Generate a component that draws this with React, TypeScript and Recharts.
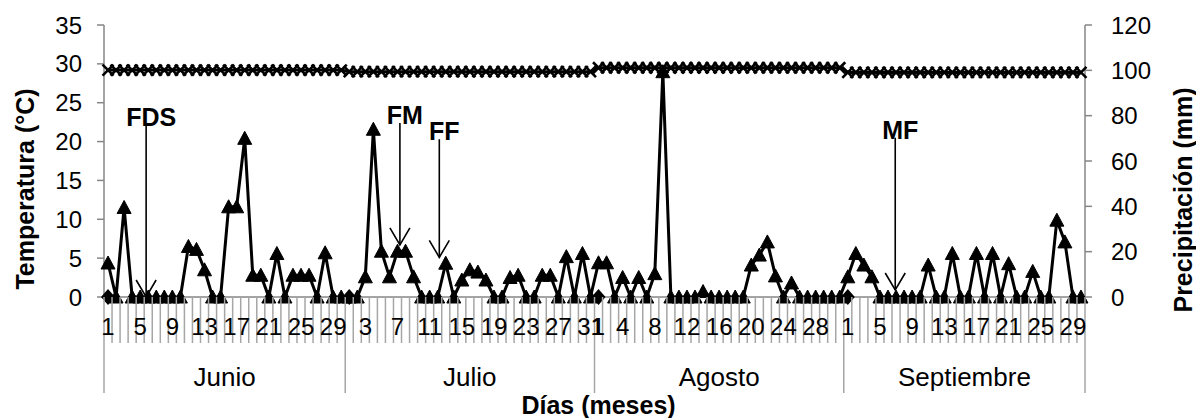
import React from 'react';
import { ComposedChart, Line, XAxis, YAxis, ReferenceLine } from 'recharts';

// ---------- data ----------
const MONTHS = ['Junio', 'Julio', 'Agosto', 'Septiembre'];

const LABELED_DAYS = [
  [1, 5, 9, 13, 17, 21, 25, 29],
  [3, 7, 11, 15, 19, 23, 27, 31],
  [1, 4, 8, 12, 16, 20, 24, 28],
  [1, 5, 9, 13, 17, 21, 25, 29],
];

// Precipitación (mm) diaria
const PRECIP_JUNIO = [15, 0, 39.5, 0, 0, 0, 0, 0, 0, 0, 22.3, 21, 12, 0, 0, 39.8, 39.8, 70, 9.6, 9.6, 0, 19.2, 0, 9.6, 9.6, 9.6, 0, 19.5, 0, 0];
const PRECIP_JULIO = [0, 0, 8.9, 74, 20.2, 8.9, 20.2, 20.2, 8.9, 0, 0, 0, 14.9, 0, 7.5, 12, 11, 7.5, 0, 0, 8.6, 9.6, 0, 0, 9.6, 9.6, 0, 17.8, 0, 19.2, 0];
const PRECIP_AGOSTO = [15.1, 15.1, 0, 8.6, 0, 8.6, 0, 10.3, 99.4, 0, 0, 0, 0, 2.4, 0, 0, 0, 0, 0, 14.1, 18.5, 24.3, 9.3, 0, 6.2, 0, 0, 0, 0, 0, 0];
const PRECIP_SEPTIEMBRE = [8.9, 19.2, 14.1, 8.9, 0, 0, 0, 0, 0, 0, 14.1, 0, 0, 19.2, 0, 0, 19.2, 0, 19.2, 0, 14.7, 0, 0, 11.3, 0, 0, 33.9, 24.3, 0, 0];

// Temperatura (°C) diaria
const TEMP_JUNIO = [29.2, 29.2, 29.2, 29.2, 29.2, 29.2, 29.2, 29.2, 29.2, 29.2, 29.2, 29.2, 29.2, 29.2, 29.2, 29.2, 29.2, 29.2, 29.2, 29.2, 29.2, 29.2, 29.2, 29.2, 29.2, 29.2, 29.2, 29.2, 29.2, 29.2];
const TEMP_JULIO = [29.0, 29.0, 29.0, 29.0, 29.0, 29.0, 29.0, 29.0, 29.0, 29.0, 29.0, 29.0, 29.0, 29.0, 29.0, 29.0, 29.0, 29.0, 29.0, 29.0, 29.0, 29.0, 29.0, 29.0, 29.0, 29.0, 29.0, 29.0, 29.0, 29.0, 29.0];
const TEMP_AGOSTO = [29.5, 29.5, 29.5, 29.5, 29.5, 29.5, 29.5, 29.5, 29.5, 29.5, 29.5, 29.5, 29.5, 29.5, 29.5, 29.5, 29.5, 29.5, 29.5, 29.5, 29.5, 29.5, 29.5, 29.5, 29.5, 29.5, 29.5, 29.5, 29.5, 29.5, 29.5];
const TEMP_SEPTIEMBRE = [28.9, 28.9, 28.9, 28.9, 28.9, 28.9, 28.9, 28.9, 28.9, 28.9, 28.9, 28.9, 28.9, 28.9, 28.9, 28.9, 28.9, 28.9, 28.9, 28.9, 28.9, 28.9, 28.9, 28.9, 28.9, 28.9, 28.9, 28.9, 28.9, 28.9];

// marca (rombo) del primer día de cada mes
const MONTH_START_MARK = [0, 0, 0, 0];

const LEFT_TICKS = [0, 5, 10, 15, 20, 25, 30, 35];
const RIGHT_TICKS = [0, 20, 40, 60, 80, 100, 120];

// anotaciones: posición en días (índice), extremo superior y punta (°C)
const ANNOTATIONS = [
  { label: 'FDS', pos: 4.74, top: 22.1, tip: 0 },
  { label: 'FM', pos: 36.3, top: 22.4, tip: 6.7 },
  { label: 'FF', pos: 41.2, top: 20.3, tip: 5.1 },
  { label: 'MF', pos: 97.9, top: 20.5, tip: 0.9 },
];

const PRECIP = [PRECIP_JUNIO, PRECIP_JULIO, PRECIP_AGOSTO, PRECIP_SEPTIEMBRE];
const TEMP = [TEMP_JUNIO, TEMP_JULIO, TEMP_AGOSTO, TEMP_SEPTIEMBRE];

type Row = { i: number; month: number; day: number; ndays: number; precip: number; temp: number; mark: number | null };
const DATA: Row[] = [];
PRECIP.forEach((arr, mi) => {
  arr.forEach((v, di) => {
    DATA.push({
      i: DATA.length,
      month: mi,
      day: di + 1,
      ndays: arr.length,
      precip: v,
      temp: TEMP[mi][di],
      mark: di === 0 ? MONTH_START_MARK[mi] : null,
    });
  });
});
const N = DATA.length;
const ALL_TICKS = DATA.map((r) => r.i);

// ---------- layout / style ----------
const W = 1196;
const H = 418;
const LEFT_W = 104;
const RIGHT_W = 111;
const TOP = 25;
const XAXIS_H = 121;
const STEP = (W - LEFT_W - RIGHT_W) / N;
const FONT = '"Liberation Sans", Arial, Helvetica, sans-serif';
const AXIS = '#868686';
const DAYLINE = '#a6a6a6';

const DayLineTick = (props: any) => {
  const { x, y, payload } = props;
  const row = DATA[payload.value];
  if (!row) return <g />;
  const left = x - STEP / 2;
  const isStart = row.day === 1;
  const isEnd = payload.value === N - 1;
  return (
    <g>
      <line x1={left} x2={left} y1={y} y2={y + (isStart ? 96 : 46)} stroke={DAYLINE} strokeWidth={1.5} />
      {isEnd && <line x1={x + STEP / 2} x2={x + STEP / 2} y1={y} y2={y + 96} stroke={DAYLINE} strokeWidth={1.5} />}
    </g>
  );
};

const DayLabelTick = (props: any) => {
  const { x, y, payload } = props;
  const row = DATA[payload.value];
  if (!row) return <g />;
  const showDay = LABELED_DAYS[row.month].includes(row.day);
  const monthCenter = x - STEP / 2 + (row.ndays * STEP) / 2;
  return (
    <g>
      {showDay && (
        <text x={x} y={y + 37} textAnchor="middle" fontSize={24} fontFamily={FONT} fill="#000">
          {row.day}
        </text>
      )}
      {row.day === 1 && (
        <text x={monthCenter} y={y + 88} textAnchor="middle" fontSize={26} fontFamily={FONT} fill="#000">
          {MONTHS[row.month]}
        </text>
      )}
    </g>
  );
};

const VTitle = (props: any) => {
  const { viewBox, text, dx, dy } = props;
  const cx = viewBox.x + dx;
  const cy = viewBox.y + viewBox.height / 2 + dy;
  return (
    <text
      x={cx}
      y={cy}
      transform={`rotate(-90 ${cx} ${cy})`}
      textAnchor="middle"
      dominantBaseline="central"
      fontSize={25}
      fontWeight="bold"
      fontFamily={FONT}
      fill="#000"
    >
      {text}
    </text>
  );
};

const XTitle = (props: any) => {
  const { viewBox } = props;
  return (
    <text
      x={viewBox.x + viewBox.width / 2 + 4}
      y={viewBox.y + 116}
      textAnchor="middle"
      fontSize={25}
      fontWeight="bold"
      fontFamily={FONT}
      fill="#000"
    >
      Días (meses)
    </text>
  );
};

const TriangleDot = (p: any) => {
  const { cx, cy } = p;
  if (cx == null || cy == null || isNaN(cy)) return <g key={p.index} />;
  return <path key={p.index} d={`M${cx},${cy - 7} L${cx + 7},${cy + 6} L${cx - 7},${cy + 6} Z`} fill="#000" stroke="#000" strokeWidth={1} />;
};

const CrossDot = (p: any) => {
  const { cx, cy } = p;
  if (cx == null || cy == null || isNaN(cy)) return <g key={p.index} />;
  const s = 5.5;
  return (
    <g key={p.index}>
      <line x1={cx - s} y1={cy - s} x2={cx + s} y2={cy + s} stroke="#000" strokeWidth={2.6} />
      <line x1={cx - s} y1={cy + s} x2={cx + s} y2={cy - s} stroke="#000" strokeWidth={2.6} />
    </g>
  );
};

const DiamondDot = (p: any) => {
  const { cx, cy } = p;
  if (cx == null || cy == null || isNaN(cy) || p.value == null) return <g key={p.index} />;
  return <path key={p.index} d={`M${cx},${cy - 8} L${cx + 7},${cy} L${cx},${cy + 8} L${cx - 7},${cy} Z`} fill="#000" />;
};

const ArrowShape = (props: any) => {
  const { x1, y1, x2, y2, text } = props;
  const x = x1;
  const topY = Math.min(y1, y2);
  const tipY = Math.max(y1, y2);
  return (
    <g>
      <text x={x + 5} y={topY + 1} textAnchor="middle" fontSize={25} fontWeight="bold" fontFamily={FONT} fill="#000">
        {text}
      </text>
      <line x1={x} y1={topY} x2={x2} y2={tipY} stroke="#000" strokeWidth={1.6} />
      <polyline points={`${x - 10},${tipY - 17} ${x},${tipY} ${x + 10},${tipY - 17}`} fill="none" stroke="#000" strokeWidth={1.6} />
    </g>
  );
};

export default function App() {
  return (
    <div style={{ position: 'absolute', left: 0, top: 0, width: W, height: H, background: '#fff' }}>
      <ComposedChart width={W} height={H} data={DATA} margin={{ top: TOP, right: 0, bottom: 0, left: 0 }}>
        <XAxis
          xAxisId="d"
          dataKey="i"
          type="number"
          domain={[-0.5, N - 0.5]}
          ticks={ALL_TICKS}
          interval={0}
          height={1}
          tickSize={0}
          tickMargin={0}
          tickLine={false}
          axisLine={{ stroke: AXIS, strokeWidth: 1.5 }}
          tick={<DayLineTick />}
        />
        <XAxis
          xAxisId="lab"
          dataKey="i"
          type="number"
          domain={[-0.5, N - 0.5]}
          ticks={ALL_TICKS}
          interval={0}
          height={XAXIS_H - 1}
          tickSize={0}
          tickMargin={0}
          tickLine={false}
          axisLine={false}
          tick={<DayLabelTick />}
          label={<XTitle />}
        />
        <YAxis
          yAxisId="l"
          orientation="left"
          width={LEFT_W}
          domain={[0, 35]}
          ticks={LEFT_TICKS}
          interval={0}
          tickSize={7}
          tickMargin={15}
          axisLine={{ stroke: AXIS, strokeWidth: 1.5 }}
          tickLine={{ stroke: AXIS, strokeWidth: 1.5 }}
          tick={{ fontSize: 24, fontFamily: FONT, fill: '#000' }}
          label={<VTitle text="Temperatura (°C)" dx={25} dy={28} />}
        />
        <YAxis
          yAxisId="r"
          orientation="right"
          width={RIGHT_W}
          domain={[0, 120]}
          ticks={RIGHT_TICKS}
          interval={0}
          tickSize={7}
          tickMargin={19}
          axisLine={{ stroke: AXIS, strokeWidth: 1.5 }}
          tickLine={{ stroke: AXIS, strokeWidth: 1.5 }}
          tick={{ fontSize: 24, fontFamily: FONT, fill: '#000' }}
          label={<VTitle text="Precipitación (mm)" dx={98} dy={39} />}
        />
        <Line
          xAxisId="d"
          yAxisId="l"
          dataKey="temp"
          stroke="#000"
          strokeWidth={3}
          dot={CrossDot}
          activeDot={false}
          isAnimationActive={false}
        />
        <Line
          xAxisId="d"
          yAxisId="l"
          dataKey="mark"
          stroke="none"
          strokeWidth={0}
          connectNulls={false}
          dot={DiamondDot}
          activeDot={false}
          isAnimationActive={false}
        />
        <Line
          xAxisId="d"
          yAxisId="r"
          dataKey="precip"
          stroke="#000"
          strokeWidth={3}
          dot={TriangleDot}
          activeDot={false}
          isAnimationActive={false}
        />
        {ANNOTATIONS.map((a) => (
          <ReferenceLine
            key={a.label}
            xAxisId="d"
            yAxisId="l"
            segment={[
              { x: a.pos, y: a.top },
              { x: a.pos, y: a.tip },
            ]}
            ifOverflow="visible"
            shape={(p: any) => <ArrowShape {...p} text={a.label} />}
          />
        ))}
      </ComposedChart>
    </div>
  );
}
